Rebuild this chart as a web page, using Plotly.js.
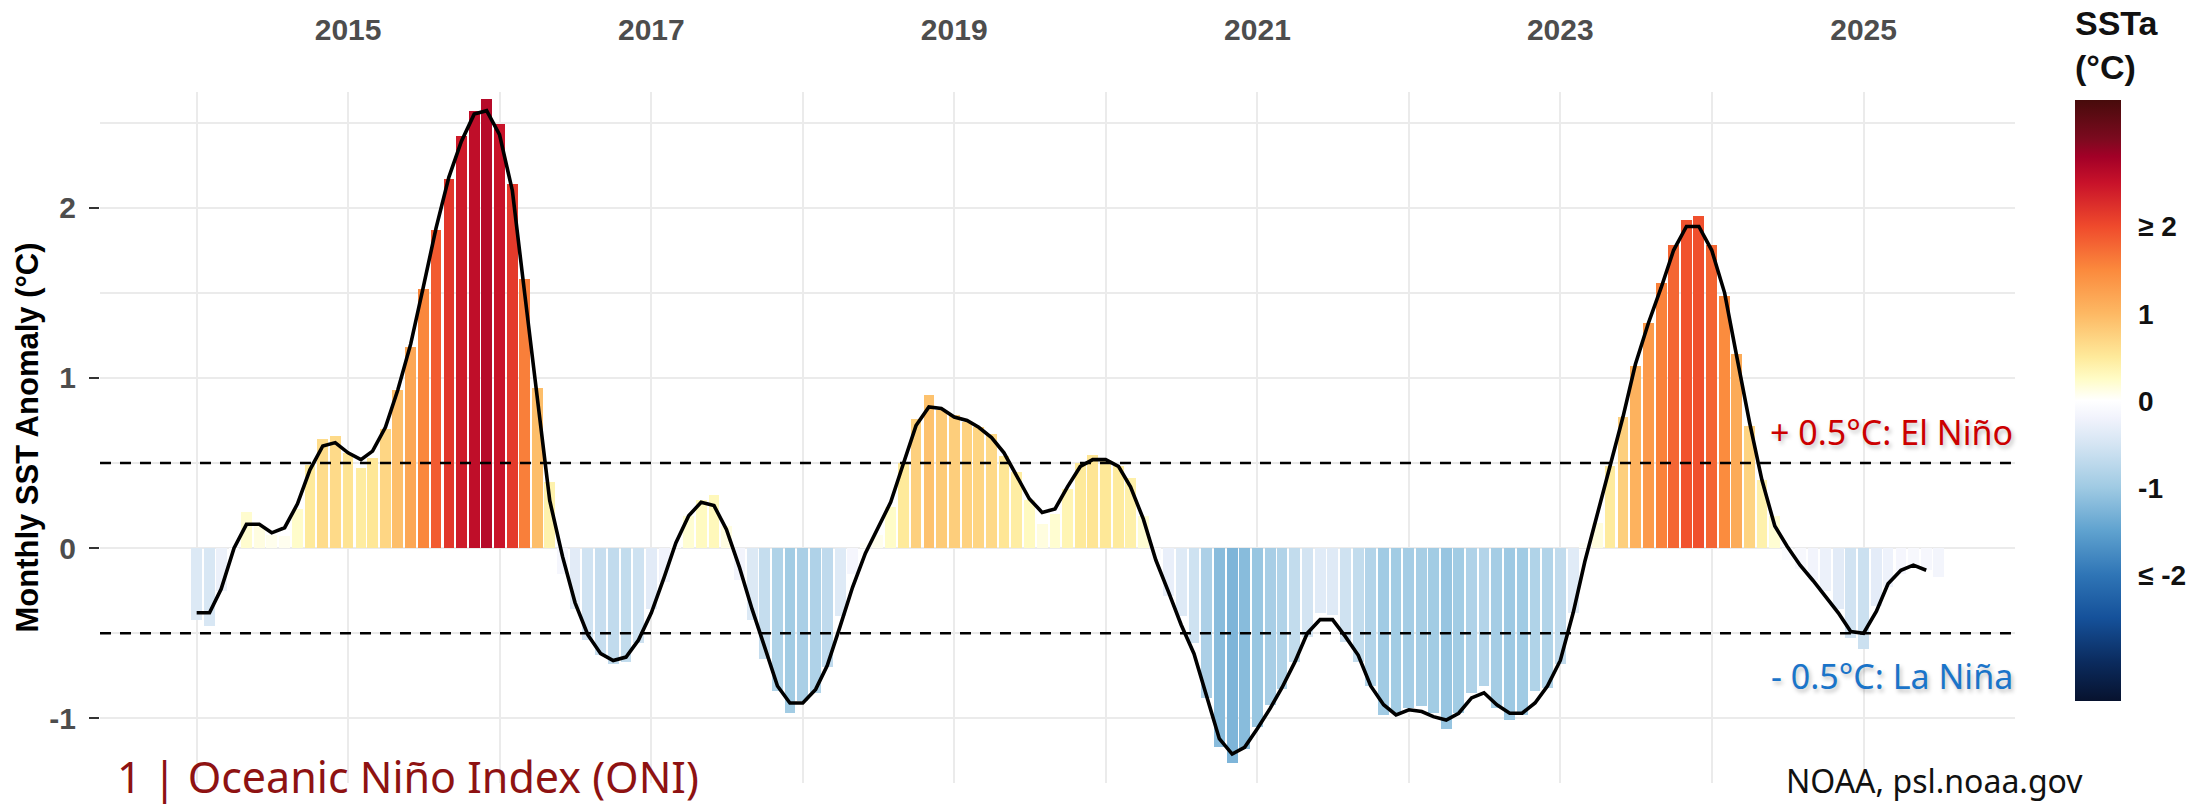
<!DOCTYPE html>
<html>
<head>
<meta charset="utf-8">
<script src="https://cdn.plot.ly/plotly-3.0.1.min.js"></script>
<style>
html,body{margin:0;padding:0;background:#ffffff;}
#chart{width:2207px;height:805px;}
</style>
</head>
<body>
<div id="chart"></div>
<script>
// ---- data ----
const firstYear = 2014;           // first bar = January 2014
const firstMonth = 1;

// Monthly Niño-3.4 SST anomaly (°C), Jan 2014 ... Jul 2025
const monthlyAnomaly = [
  -0.42,-0.46,-0.25,-0.02, 0.21, 0.13, 0.08, 0.07, 0.23, 0.49, 0.64, 0.66,   // 2014
   0.56, 0.47, 0.53, 0.70, 0.93, 1.18, 1.52, 1.87, 2.17, 2.42, 2.57, 2.64,   // 2015
   2.49, 2.14, 1.58, 0.94, 0.39,-0.15,-0.36,-0.54,-0.63,-0.68,-0.67,-0.56,   // 2016
  -0.36,-0.20, 0.02, 0.19, 0.28, 0.31, 0.13,-0.19,-0.42,-0.65,-0.84,-0.97,   // 2017
  -0.90,-0.85,-0.70,-0.40,-0.15, 0.03, 0.08, 0.24, 0.50, 0.76, 0.90, 0.81,   // 2018
   0.78, 0.74, 0.71, 0.67, 0.54, 0.45, 0.28, 0.14, 0.20, 0.35, 0.50, 0.55,   // 2019
   0.52, 0.48, 0.41, 0.19,-0.07,-0.28,-0.40,-0.56,-0.88,-1.17,-1.26,-1.18,   // 2020
  -1.05,-0.92,-0.83,-0.67,-0.52,-0.38,-0.39,-0.55,-0.67,-0.81,-0.98,-0.97,   // 2021
  -0.94,-0.93,-0.97,-1.06,-0.97,-0.85,-0.81,-0.94,-1.01,-0.98,-0.84,-0.82,   // 2022
  -0.68,-0.38, 0.03, 0.15, 0.48, 0.77, 1.07, 1.32, 1.56, 1.78, 1.93, 1.95,   // 2023
   1.78, 1.48, 1.14, 0.72, 0.40, 0.19,-0.07,-0.12,-0.19,-0.25,-0.36,-0.53,   // 2024
  -0.59,-0.34,-0.23,-0.15,-0.11,-0.13,-0.17                                  // 2025
];

// Oceanic Niño Index (3-month running mean), Jan 2014 ... Jun 2025
const oniValues = [
  -0.38,-0.38,-0.24, 0.00, 0.14, 0.14, 0.09, 0.12, 0.26, 0.46, 0.60, 0.62,
   0.56, 0.52, 0.57, 0.71, 0.93, 1.20, 1.53, 1.88, 2.18, 2.39, 2.55, 2.57,
   2.43, 2.10, 1.51, 0.88, 0.28,-0.05,-0.32,-0.51,-0.62,-0.66,-0.64,-0.54,
  -0.38,-0.17, 0.03, 0.19, 0.27, 0.25, 0.11,-0.11,-0.36,-0.58,-0.81,-0.91,
  -0.91,-0.83,-0.69,-0.46,-0.23,-0.03, 0.12, 0.27, 0.50, 0.72, 0.83, 0.82,
   0.77, 0.75, 0.71, 0.65, 0.56, 0.42, 0.29, 0.21, 0.23, 0.36, 0.48, 0.52,
   0.52, 0.48, 0.36, 0.17,-0.07,-0.26,-0.45,-0.62,-0.87,-1.12,-1.21,-1.17,
  -1.06,-0.94,-0.82,-0.67,-0.50,-0.42,-0.42,-0.52,-0.63,-0.81,-0.92,-0.98,
  -0.95,-0.96,-0.99,-1.01,-0.97,-0.88,-0.85,-0.92,-0.97,-0.97,-0.91,-0.81,
  -0.66,-0.38,-0.08, 0.21, 0.50, 0.77, 1.08, 1.32, 1.53, 1.75, 1.89, 1.89,
   1.75, 1.50, 1.13, 0.74, 0.40, 0.13, 0.01,-0.10,-0.19,-0.28,-0.38,-0.49,
  -0.50,-0.37,-0.21,-0.13,-0.10,-0.13
];

const yTickVals = [-1, 0, 1, 2];
const yTickText = ['-1', '0', '1', '2'];
const colorbarTickVals = [-2, -1, 0, 1, 2];
const colorbarTickText = ['≤ -2', '-1', '0', '1', '≥ 2'];
const thresholdValues = [0.5, -0.5];
const thresholdLabels = ['+ 0.5°C: El Niño', '- 0.5°C: La Niña'];
const chartTitle = '1 | Oceanic Niño Index (ONI)';
const sourceText = 'NOAA, psl.noaa.gov';
const yTitle = 'Monthly SST Anomaly (°C)';
const colorbarTitle = 'SSTa<br>(°C)';

// ---- helpers ----
function monthDate(i) {
  const m0 = (firstMonth - 1) + i;
  const y = firstYear + Math.floor(m0 / 12);
  const m = (m0 % 12) + 1;
  return y + '-' + String(m).padStart(2, '0') + '-01';
}
const barDates = monthlyAnomaly.map((_, i) => monthDate(i));
const oniDates = oniValues.map((_, i) => monthDate(i));

// ---- styles ----
const cLim = 3.45;
const colorscale = [
  [0.000, '#07122e'],
  [0.065, '#0b2b5e'],
  [0.138, '#15519a'],
  [0.210, '#2f75b6'],
  [0.283, '#5fa2cf'],
  [0.355, '#9fcae3'],
  [0.428, '#d5e5f3'],
  [0.471, '#f1f3fc'],
  [0.500, '#ffffff'],
  [0.536, '#fffcc6'],
  [0.572, '#feea9b'],
  [0.645, '#fdb863'],
  [0.717, '#fb8a3d'],
  [0.790, '#ef4a2c'],
  [0.862, '#c8122a'],
  [0.906, '#a20027'],
  [0.935, '#7c0a1f'],
  [1.000, '#470b0b']
];
const gridCol = '#ebebeb';
const boldFont = 'Liberation Sans, Arial, sans-serif';
const textFont = 'Noto Sans, Open Sans, sans-serif';
const DAY = 86400000;

const bars = {
  type: 'bar',
  x: barDates,
  y: monthlyAnomaly,
  width: barDates.map(() => 26 * DAY),
  marker: {
    color: monthlyAnomaly,
    colorscale: colorscale,
    cmin: -cLim,
    cmax: cLim,
    line: {width: 0},
    showscale: true,
    colorbar: {
      x: 1.0313, xanchor: 'left', xref: 'paper',
      y: 0.988, yanchor: 'top',
      len: 601, lenmode: 'pixels',
      thickness: 46, thicknessmode: 'pixels',
      outlinewidth: 0, xpad: 0, ypad: 0,
      tickvals: colorbarTickVals,
      ticktext: colorbarTickText,
      ticks: 'outside', ticklen: 12, tickwidth: 1, tickcolor: 'rgba(0,0,0,0)',
      tickfont: {family: boldFont, size: 28, color: '#111111', weight: 'bold'}
    }
  },
  hoverinfo: 'x+y',
  showlegend: false
};

const line = {
  type: 'scatter',
  mode: 'lines',
  x: oniDates,
  y: oniValues,
  line: {color: '#000000', width: 3.6},
  hoverinfo: 'x+y',
  showlegend: false
};

const shapes = thresholdValues.map(v => ({
  type: 'line', xref: 'paper', x0: 0, x1: 1, yref: 'y', y0: v, y1: v,
  line: {color: '#000000', width: 2.6, dash: '11px,9px'}
}));

const annotations = [
  {
    text: thresholdLabels[0], xref: 'paper', x: 1, xanchor: 'right',
    yref: 'y', y: thresholdValues[0], yanchor: 'bottom', yshift: 6,
    showarrow: false,
    font: {family: textFont, size: 34, color: '#cc0000', shadow: '2px 3px 4px rgba(0,0,0,0.25)'}
  },
  {
    text: thresholdLabels[1], xref: 'paper', x: 1, xanchor: 'right',
    yref: 'y', y: thresholdValues[1], yanchor: 'top', yshift: -18,
    showarrow: false,
    font: {family: textFont, size: 34, color: '#1a74c9', shadow: '2px 3px 4px rgba(0,0,0,0.25)'}
  },
  {
    text: sourceText, xref: 'paper', x: 1.0366, xanchor: 'right',
    yref: 'paper', y: 0.003, yanchor: 'middle',
    showarrow: false,
    font: {family: textFont, size: 32, color: '#111111'}
  },
  {
    text: colorbarTitle, xref: 'paper', x: 1.0303, xanchor: 'left', align: 'left',
    yref: 'paper', y: 1.0673, yanchor: 'middle',
    showarrow: false,
    font: {family: boldFont, size: 34, color: '#111111', weight: 'bold'}
  }
];

const layout = {
  width: 2207, height: 805,
  margin: {l: 100, r: 192, t: 92, b: 22},
  paper_bgcolor: '#ffffff', plot_bgcolor: '#ffffff',
  title: {
    text: chartTitle,
    xref: 'container', x: 117 / 2207, xanchor: 'left',
    yref: 'container', y: 27 / 805, yanchor: 'middle',
    font: {family: textFont, size: 43, color: '#8e1212'}
  },
  bargap: 0,
  xaxis: {
    type: 'date',
    side: 'top',
    range: ['2013-05-13', '2026-01-01'],
    tick0: '2015-01-01', dtick: 'M24', tickformat: '%Y',
    ticks: '', ticklabelstandoff: 45,
    tickfont: {family: boldFont, size: 30, color: '#4d4d4d', weight: 'bold'},
    showgrid: true, gridcolor: gridCol, gridwidth: 2,
    minor: {tick0: '2014-01-01', dtick: 'M12', showgrid: true, gridcolor: gridCol, gridwidth: 2},
    zeroline: false, showline: false, fixedrange: true
  },
  yaxis: {
    range: [-1.38, 2.68],
    tickvals: yTickVals,
    ticktext: yTickText,
    ticks: 'outside', ticklen: 10, tickwidth: 2, tickcolor: '#333333',
    ticklabelstandoff: 7,
    tickfont: {family: boldFont, size: 30, color: '#4d4d4d', weight: 'bold'},
    showgrid: true, gridcolor: gridCol, gridwidth: 2,
    minor: {dtick: 0.5, showgrid: true, gridcolor: gridCol, gridwidth: 2},
    zeroline: false, showline: false, fixedrange: true,
    title: {text: yTitle, standoff: 1,
            font: {family: boldFont, size: 31, color: '#000000', weight: 'bold'}}
  },
  shapes: shapes,
  annotations: annotations
};

Plotly.newPlot('chart', [bars, line], layout, {displayModeBar: false, staticPlot: true});
</script>
</body>
</html>
